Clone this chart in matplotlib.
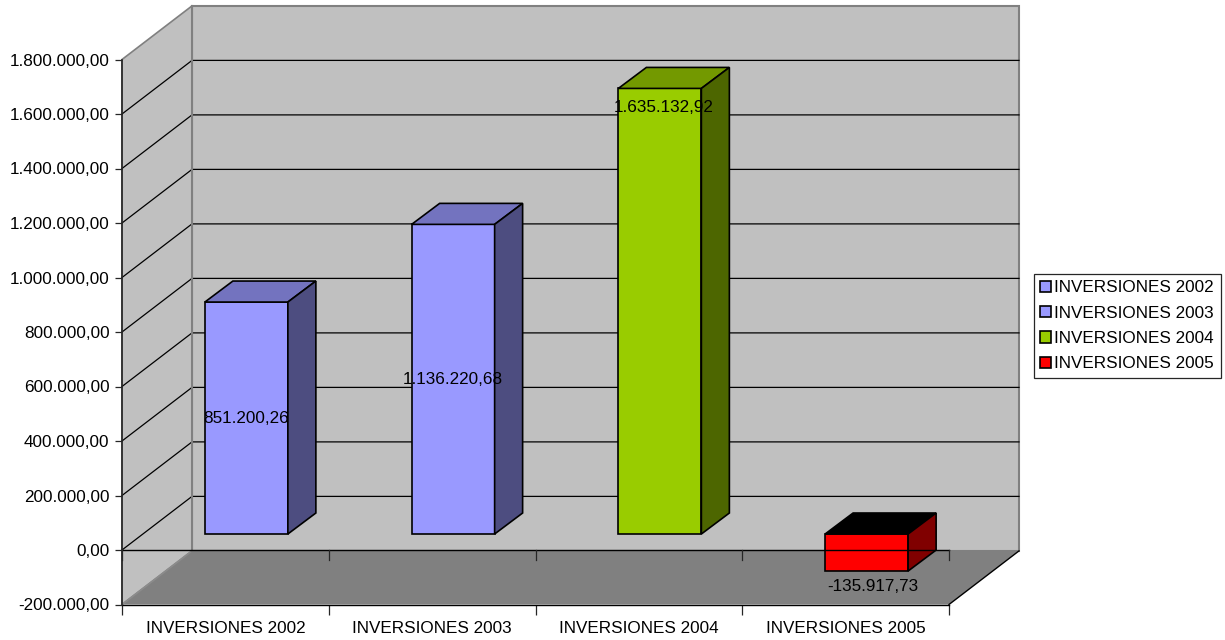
import matplotlib
matplotlib.use("Agg")
import matplotlib.pyplot as plt
from matplotlib.patches import Polygon, Patch
from matplotlib.ticker import FixedLocator

plt.rcParams['font.family'] = ['Liberation Sans', 'DejaVu Sans']

categories = ["INVERSIONES 2002", "INVERSIONES 2003", "INVERSIONES 2004", "INVERSIONES 2005"]
values = [851200.26, 1136220.68, 1635132.92, -135917.73]
value_labels = ["851.200,26", "1.136.220,68", "1.635.132,92", "-135.917,73"]
front_colors = ["#9999ff", "#9999ff", "#99cc00", "#ff0000"]
top_colors = ["#7373bf", "#7373bf", "#739900", "#000000"]
side_colors = ["#4d4d80", "#4d4d80", "#4d6600", "#800000"]
y_ticks = list(range(-200000, 1800001, 200000))

W, H = 1225, 640
FS = 12.3
fig = plt.figure(figsize=(W / 100, H / 100), dpi=100)
ax = fig.add_axes([122 / W, 1 - 604.5 / H, (949 - 122) / W, (604.5 - 59.5) / H])
ax.set_xlim(0, 4)
ax.set_ylim(-200000, 1800000)
ax.patch.set_alpha(0)
for s in ax.spines.values():
    s.set_visible(False)

UX = 827 / 4              # px per category
UY = 545 / 2000000        # px per value
WALL_DX = 70 / UX
WALL_DY = 53.6 / UY
BAR_OFF_X = 21 / UX
BAR_OFF_Y = 16 / UY
BAR_DX = 28 / UX
BAR_DY = 21 / UY
BAR_W = 83 / UX
Y0, Y1 = y_ticks[0], y_ticks[-1]
GREY = "#808080"
WALL = "#c0c0c0"


def poly(pts, fc, ec="none", lw=0, z=1):
    ax.add_patch(Polygon(pts, closed=True, facecolor=fc, edgecolor=ec, linewidth=lw,
                         zorder=z, clip_on=False, joinstyle="miter"))


# back wall, side wall, floor
poly([(WALL_DX, Y0 + WALL_DY), (4 + WALL_DX, Y0 + WALL_DY), (4 + WALL_DX, Y1 + WALL_DY), (WALL_DX, Y1 + WALL_DY)],
     WALL, GREY, 1.5, 1)
poly([(0, Y0), (WALL_DX, Y0 + WALL_DY), (WALL_DX, Y1 + WALL_DY), (0, Y1)], WALL, GREY, 1.2, 1)
poly([(0, Y0), (4, Y0), (4 + WALL_DX, Y0 + WALL_DY), (WALL_DX, Y0 + WALL_DY)], GREY, "none", 0, 1.5)
ax.plot([0, WALL_DX], [Y0, Y0 + WALL_DY], color="#8c8c8c", lw=1.2, zorder=1.6, clip_on=False)
ax.plot([4, 4 + WALL_DX], [Y0, Y0 + WALL_DY], color="black", lw=1, zorder=1.6, clip_on=False)
ax.plot([0, 4], [Y0, Y0], color="black", lw=1, zorder=1.6, clip_on=False)

# gridlines on both walls
for t in y_ticks[1:-1]:
    ax.plot([0, WALL_DX, 4 + WALL_DX], [t, t + WALL_DY, t + WALL_DY], color="black", lw=0.9,
            zorder=1.7, clip_on=False, solid_joinstyle="miter")
ax.plot([WALL_DX, WALL_DX], [Y0 + WALL_DY, Y1 + WALL_DY], color=GREY, lw=1.5, zorder=1.8, clip_on=False)

# bars
for i, v in enumerate(values):
    xl = i + 0.5 + BAR_OFF_X - BAR_W / 2
    xr = xl + BAR_W
    b = BAR_OFF_Y
    t = v + BAR_OFF_Y
    hi = max(b, t)
    lo = min(b, t)
    ax.bar(i + 0.5 + BAR_OFF_X, v, width=BAR_W, bottom=BAR_OFF_Y, color=front_colors[i],
           edgecolor="black", linewidth=1.2, zorder=3, clip_on=False)
    poly([(xl, hi), (xr, hi), (xr + BAR_DX, hi + BAR_DY), (xl + BAR_DX, hi + BAR_DY)],
         top_colors[i], "black", 1.2, 3)
    poly([(xr, lo), (xr + BAR_DX, lo + BAR_DY), (xr + BAR_DX, hi + BAR_DY), (xr, hi)],
         side_colors[i], "black", 1.2, 3)

# zero axis line, over the bars
ax.plot([0, 4], [0, 0], color="black", lw=1, zorder=4, clip_on=False)

# axes and ticks
ax.plot([0, 0], [Y0, Y1], color="#262626", lw=1.2, zorder=4, clip_on=False)
ax.set_yticks(y_ticks)
ax.set_yticklabels([f"{t:,.2f}".replace(",", "X").replace(".", ",").replace("X", ".") for t in y_ticks],
                   fontsize=FS, color="black")
ax.tick_params(axis="y", length=5, width=0.9, pad=4, color="#262626")
ax.xaxis.set_major_locator(FixedLocator([0, 1, 2, 3, 4]))
ax.set_xticklabels([])
ax.tick_params(axis="x", which="major", length=7.5, width=0.9, color="#262626")
ax.xaxis.set_minor_locator(FixedLocator([0.5, 1.5, 2.5, 3.5]))
ax.set_xticklabels(categories, minor=True, fontsize=FS)
ax.tick_params(axis="x", which="minor", length=0, pad=12)
for c in range(5):
    ax.plot([c, c], [0, -10 / UY], color="#262626", lw=0.9, zorder=4, clip_on=False)

# value labels
label_centres = [i + 0.5 + BAR_OFF_X for i in range(4)]
label_pos = [(label_centres[0], 425600 + BAR_OFF_Y), (label_centres[1], 568110 + BAR_OFF_Y),
             (label_centres[2] + 4 / UX, 1625000), (label_centres[3] + 6 / UX, -135917 - 15 / UY + BAR_OFF_Y)]
for (x, y), s in zip(label_pos, value_labels):
    ax.text(x, y, s, ha="center", va="center", fontsize=FS, color="black", zorder=5, clip_on=False)

# legend
handles = [Patch(facecolor=c, edgecolor="black", linewidth=1.2) for c in front_colors]
leg = fig.legend(handles, categories, loc="upper left", bbox_to_anchor=(1034 / W, 1 - 274 / H),
                 bbox_transform=fig.transFigure, fontsize=FS, frameon=True, fancybox=False,
                 edgecolor="#262626", facecolor="white", framealpha=1, borderaxespad=0,
                 handlelength=0.62, handleheight=0.62, handletextpad=0.2, labelspacing=0.6,
                 borderpad=0.38)
leg.get_frame().set_linewidth(0.9)

fig.savefig("out.png", dpi=100, facecolor="white")
